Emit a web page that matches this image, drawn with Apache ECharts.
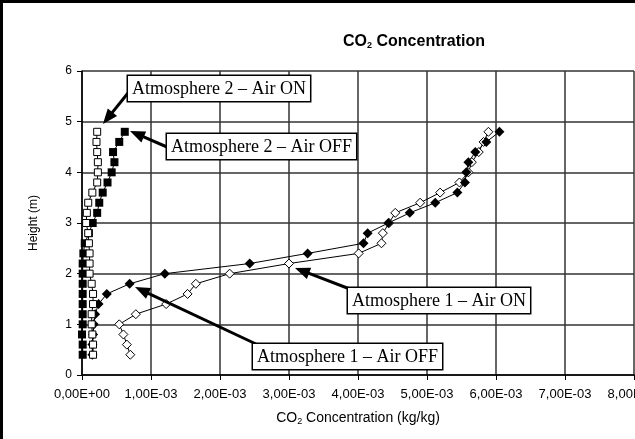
<!DOCTYPE html>
<html><head><meta charset="utf-8">
<script src="https://cdn.jsdelivr.net/npm/echarts@6/dist/echarts.min.js"></script>
<style>html,body{margin:0;padding:0;background:#fff}#c{width:635px;height:439px}</style>
</head><body><div id="c"></div>
<script>
// Heights (m) of the measurement points
const heights = [0.4,0.6,0.8,1.0,1.2,1.4,1.6,1.8,2.0,2.2,2.4,2.6,2.8,3.0,3.2,3.4,3.6,3.8,4.0,4.2,4.4,4.6,4.8];
// CO2 concentration in units of 1E-03 kg/kg
const atm1OffX = [0.15,0.15,0.16,0.17,0.19,0.24,0.36,0.69,1.20,2.43,3.27,4.08,4.14,4.44,4.75,5.12,5.44,5.55,5.57,5.60,5.70,5.86,6.05];
const atm1OnX  = [0.70,0.65,0.60,0.54,0.78,1.22,1.53,1.65,2.14,3.00,4.01,4.34,4.36,4.45,4.54,4.90,5.19,5.47,5.60,5.65,5.75,5.82,5.89];
const atm2OffX = [0.01,0.01,0.00,0.01,0.01,0.01,0.01,0.01,0.01,0.01,0.02,0.04,0.10,0.155,0.22,0.25,0.30,0.37,0.43,0.47,0.45,0.54,0.62];
const atm2OnX  = [0.16,0.16,0.15,0.14,0.14,0.16,0.16,0.14,0.11,0.11,0.11,0.10,0.09,0.06,0.07,0.09,0.15,0.22,0.23,0.23,0.22,0.21,0.22];

const pairs = xs => xs.map((v,i)=>[v*1e-3, heights[i]]);
const fmtX = v => { const k = Math.round(v*1e5)/100; return k===0 ? '0,00E+00' : k.toFixed(2).replace('.',',')+'E-03'; };

function arrow(x1,y1,x2,y2){
  const dx=x2-x1, dy=y2-y1, L=Math.hypot(dx,dy), ux=dx/L, uy=dy/L;
  const hl=15, hw=6;
  const bx=x2-ux*hl, by=y2-uy*hl;
  return [
    {type:'line', shape:{x1,y1,x2:bx+ux*2,y2:by+uy*2}, style:{stroke:'#000',lineWidth:3}, z:50},
    {type:'polygon', shape:{points:[[x2,y2],[bx-uy*hw,by+ux*hw],[bx+uy*hw,by-ux*hw]]}, style:{fill:'#000'}, z:50}
  ];
}
function box(x,y,text){
  return {type:'text', x, y, z:60, style:{text, font:'18px "Liberation Serif", "Times New Roman", serif', fill:'#000',
    backgroundColor:'#fff', borderColor:'#000', borderWidth:1.5, padding:[4,4,3,4]}};
}

const chart = echarts.init(document.getElementById('c'), null, {renderer:'canvas'});
const common = {type:'line', smooth:false, lineStyle:{color:'#000',width:1}, animation:false};
chart.setOption({
  animation:false,
  backgroundColor:'#fff',
  title:{text:'CO{s|2} Concentration', left:409, top:29, textAlign:'center',
    textStyle:{fontFamily:'Liberation Sans, Arial', fontWeight:'bold', fontSize:16, color:'#000',
      rich:{s:{fontSize:9, fontWeight:'bold', fontFamily:'Liberation Sans, Arial', padding:[7,0,0,0]}}}},
  grid:{left:82, right:1, top:71, bottom:64, containLabel:false, outerBoundsMode:'none'},
  xAxis:{type:'value', min:0, max:8e-3, interval:1e-3,
    name:'CO{s|2} Concentration (kg/kg)', nameLocation:'middle', nameGap:36,
    nameTextStyle:{fontFamily:'Liberation Sans, Arial', fontSize:14, color:'#000', rich:{s:{fontSize:9,padding:[6,0,0,0]}}},
    axisLine:{lineStyle:{color:'#000',width:1.5}}, axisTick:{show:true,length:5,lineStyle:{color:'#000'}},
    axisLabel:{formatter:fmtX, fontFamily:'Liberation Sans, Arial', fontSize:13, color:'#000', margin:13, showMaxLabel:true, hideOverlap:false},
    splitLine:{show:true, lineStyle:{color:'#333', width:1.5}}},
  yAxis:{type:'value', min:0, max:6, interval:1,
    name:'Height (m)', nameLocation:'middle', nameGap:42,
    nameTextStyle:{fontFamily:'Liberation Sans, Arial', fontSize:12, color:'#000'},
    axisLine:{show:true, lineStyle:{color:'#000',width:1.5}}, axisTick:{show:true,length:5,lineStyle:{color:'#000'}},
    axisLabel:{fontFamily:'Liberation Sans, Arial', fontSize:12, color:'#000', margin:10},
    splitLine:{show:true, lineStyle:{color:'#333', width:1.5}}},
  series:[
    Object.assign({}, common, {name:'Atmosphere 1 – Air ON', data:pairs(atm1OnX), symbol:'diamond', symbolSize:9,
      itemStyle:{color:'#fff', borderColor:'#000', borderWidth:1}}),
    Object.assign({}, common, {name:'Atmosphere 1 – Air OFF', data:pairs(atm1OffX), symbol:'diamond', symbolSize:10,
      itemStyle:{color:'#000', borderColor:'#000', borderWidth:0}}),
    Object.assign({}, common, {name:'Atmosphere 2 – Air OFF', data:pairs(atm2OffX), symbol:'rect', symbolSize:8,
      itemStyle:{color:'#000', borderColor:'#000', borderWidth:0}}),
    Object.assign({}, common, {name:'Atmosphere 2 – Air ON', data:pairs(atm2OnX), symbol:'rect', symbolSize:7,
      itemStyle:{color:'#fff', borderColor:'#000', borderWidth:1}})
  ],
  graphic:[].concat(
    [{type:'rect', shape:{x:1.5,y:1.5,width:800,height:600}, style:{fill:null, stroke:'#000', lineWidth:3}, z:70}],
    arrow(128,93,103,124),
    arrow(167,147,130,131),
    arrow(355,291,295,268),
    arrow(256,344,135,287),
    [box(128,76,'Atmosphere 2 – Air ON'),
     box(167,134,'Atmosphere 2 – Air OFF'),
     box(348,288,'Atmosphere 1 – Air ON'),
     box(253,344,'Atmosphere 1 – Air OFF')]
  )
});
</script></body></html>
